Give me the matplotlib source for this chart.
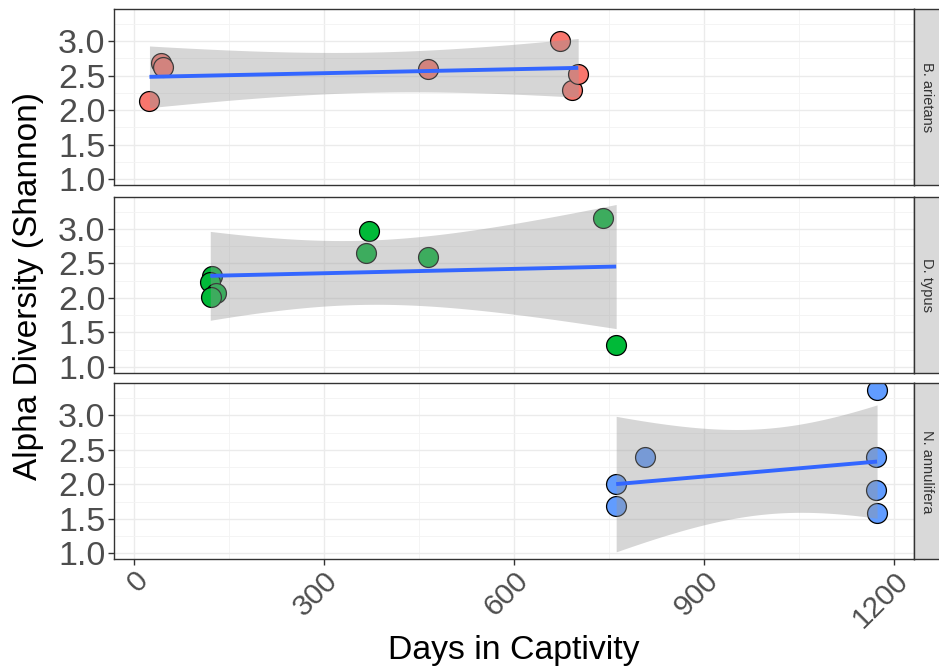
import numpy as np
import matplotlib
matplotlib.use("Agg")
import matplotlib.pyplot as plt
from matplotlib.ticker import MultipleLocator

plt.rcParams['font.family'] = ['Liberation Sans', 'DejaVu Sans']

# ---- data ----
species = ["B. arietans", "D. typus", "N. annulifera"]
colors = ["#F8766D", "#00BA38", "#619CFF"]

days_arietans = [25, 44, 46, 465, 673, 693, 702]
shannon_arietans = [2.13, 2.68, 2.63, 2.60, 3.00, 2.29, 2.52]

days_typus = [124, 121, 130, 122, 367, 372, 465, 741, 762]
shannon_typus = [2.31, 2.23, 2.07, 2.01, 2.65, 2.97, 2.59, 3.16, 1.32]

days_annulifera = [762, 762, 807, 1172, 1172, 1174, 1174]
shannon_annulifera = [2.01, 1.68, 2.40, 2.40, 1.92, 3.37, 1.59]

x_ticks = [0, 300, 600, 900, 1200]
y_ticks = [1.0, 1.5, 2.0, 2.5, 3.0]

days_all = [days_arietans, days_typus, days_annulifera]
shannon_all = [shannon_arietans, shannon_typus, shannon_annulifera]

# t quantiles (0.975) for df = n - 2
T975 = {5: 2.5706, 6: 2.4469, 7: 2.3646, 8: 2.3060}

W, H = 939, 670
fig = plt.figure(figsize=(W / 100, H / 100), dpi=100)

left_px, right_px = 114, 913.5
panels_px = [(9, 185), (196.7, 372.7), (383.3, 559.3)]
strip_w = 26

tick_color = "#4D4D4D"
frame_color = "#333333"

for i, (sp, col, xs, ys) in enumerate(zip(species, colors, days_all, shannon_all)):
    top, bot = panels_px[i]
    ax = fig.add_axes([left_px / W, 1 - bot / H, (right_px - left_px) / W, (bot - top) / H])
    xs = np.array(xs, float)
    ys = np.array(ys, float)

    ax.set_xlim(-31, 1231.5)
    ax.set_ylim(0.915, 3.465)
    ax.xaxis.set_major_locator(MultipleLocator(300))
    ax.xaxis.set_minor_locator(MultipleLocator(150))
    ax.yaxis.set_major_locator(MultipleLocator(0.5))
    ax.yaxis.set_minor_locator(MultipleLocator(0.25))
    ax.set_yticks(y_ticks)
    ax.set_yticklabels([f"{v:.1f}" for v in y_ticks])
    ax.grid(which="major", color="#EBEBEB", lw=1.0, zorder=0)
    ax.grid(which="minor", color="#F3F3F3", lw=0.6, zorder=0)
    ax.set_axisbelow(True)
    for s in ax.spines.values():
        s.set_color(frame_color)
        s.set_linewidth(1.0)

    # points
    ax.scatter(xs, ys, s=205, c=col, edgecolors="black", linewidths=0.9, zorder=2)

    # linear smooth with 95% CI
    n = len(xs)
    b, a = np.polyfit(xs, ys, 1)
    xg = np.linspace(xs.min(), xs.max(), 80)
    yg = a + b * xg
    resid = ys - (a + b * xs)
    s_err = np.sqrt(np.sum(resid ** 2) / (n - 2))
    sxx = np.sum((xs - xs.mean()) ** 2)
    se = s_err * np.sqrt(1 / n + (xg - xs.mean()) ** 2 / sxx)
    t = T975[n - 2]
    ax.fill_between(xg, yg - t * se, yg + t * se, color="#999999", alpha=0.4, lw=0, zorder=3)
    ax.plot(xg, yg, color="#3366FF", lw=2.8, zorder=4, solid_capstyle="butt")

    ax.tick_params(axis="y", which="major", colors=frame_color, length=4, width=1,
                   labelsize=24.5, labelcolor=tick_color, pad=2)
    ax.tick_params(axis="both", which="minor", length=0)

    if i < 2:
        ax.tick_params(axis="x", labelbottom=False, length=0)
    else:
        ax.set_xticks(x_ticks)
        ax.set_xticklabels([str(v) for v in x_ticks], rotation=45, ha="right", va="top",
                           rotation_mode="anchor")
        ax.tick_params(axis="x", which="major", colors=frame_color, length=4, width=1,
                       labelsize=21.5, labelcolor=tick_color, pad=1)

    # strip on right
    sax = fig.add_axes([(right_px + 0.5) / W, 1 - bot / H, strip_w / W, (bot - top) / H])
    sax.set_facecolor("#D9D9D9")
    sax.set_xticks([])
    sax.set_yticks([])
    for s in sax.spines.values():
        s.set_color(frame_color)
        s.set_linewidth(1.0)
    sax.text(0.5, 0.5, sp, rotation=-90, ha="center", va="center", fontsize=10.5,
             color="#333333", transform=sax.transAxes)

fig.text(29 / W, 1 - 286 / H, "Alpha Diversity (Shannon)", rotation=90, ha="center",
         va="center", fontsize=24, color="black")
fig.text(514 / W, 1 - 650 / H, "Days in Captivity", ha="center", va="center",
         fontsize=24.3, color="black")

fig.savefig("out.png", dpi=100)
